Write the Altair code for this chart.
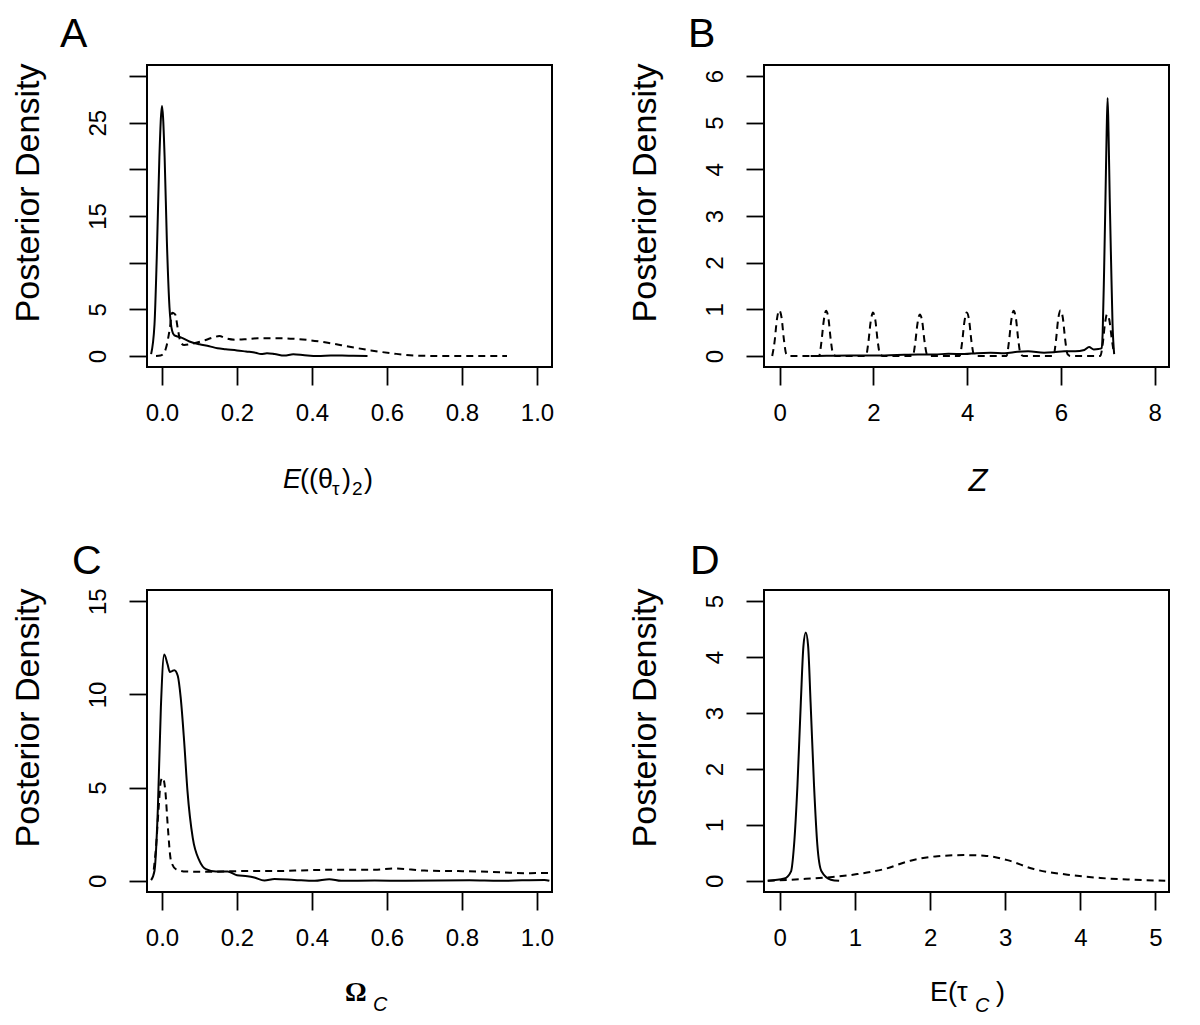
import altair as alt
import pandas as pd

FONT = "Liberation Sans"

# ---------------- Panel A ----------------
a_solid_x = [-0.029, -0.02, -0.014, -0.007, 0.0, 0.007, 0.013, 0.02, 0.027, 0.033, 0.05, 0.073, 0.1,
             0.126, 0.148, 0.17, 0.2, 0.224, 0.25, 0.264, 0.28, 0.3, 0.326, 0.35, 0.38, 0.415, 0.45,
             0.48, 0.51, 0.548]
a_solid_y = [0.2, 3.4, 10.5, 21.3, 26.8, 21.3, 12.3, 5.2, 2.7, 2.2, 2.0, 1.55, 1.25,
             1.05, 0.82, 0.72, 0.6, 0.48, 0.35, 0.2, 0.3, 0.22, 0.05, 0.18, 0.08, 0.0, 0.04,
             0.05, 0.02, 0.0]
a_dash_x = [-0.016, -0.004, 0.005, 0.011, 0.021, 0.027, 0.035, 0.043, 0.05, 0.059, 0.082, 0.108,
            0.135, 0.153, 0.17, 0.197, 0.224, 0.255, 0.315, 0.35, 0.388, 0.442, 0.504, 0.557, 0.62,
            0.68, 0.75, 0.92]
a_dash_y = [0.0, 0.05, 0.3, 0.9, 3.0, 4.64, 4.46, 2.7, 1.43, 1.18, 1.32, 1.6,
            1.96, 2.14, 1.9, 1.75, 1.8, 1.9, 1.9, 1.85, 1.72, 1.42, 0.96, 0.6, 0.25,
            0.04, 0.0, 0.0]

# ---------------- Panel B ----------------
b_solid_x = [0.66, 1.0, 1.5, 2.0, 2.5, 2.94, 3.3, 3.6, 3.94, 4.2, 4.5, 4.8, 5.07, 5.3, 5.64, 5.85,
             6.07, 6.3, 6.5, 6.6, 6.7, 6.8, 6.87, 6.89, 6.92, 6.95, 6.975, 6.995, 7.015, 7.04,
             7.07, 7.1, 7.135]
b_solid_y = [0.0, 0.005, 0.01, 0.01, 0.02, 0.03, 0.03, 0.05, 0.04, 0.06, 0.07, 0.06, 0.09, 0.1, 0.07,
             0.08, 0.1, 0.1, 0.13, 0.19, 0.14, 0.15, 0.17, 0.5, 1.8, 3.4, 4.8, 5.53, 4.8, 3.4,
             2.0, 0.7, 0.04]
b_dash_x = [-0.16, -0.11, -0.06, -0.01, 0.04, 0.09, 0.14, 0.2, 0.8,
            0.84, 0.89, 0.94, 0.99, 1.04, 1.09, 1.14, 1.2, 1.8,
            1.84, 1.89, 1.94, 1.99, 2.04, 2.09, 2.14, 2.2, 2.8,
            2.84, 2.89, 2.94, 2.99, 3.04, 3.09, 3.14, 3.2, 3.8,
            3.84, 3.89, 3.94, 3.99, 4.04, 4.09, 4.14, 4.2, 4.8,
            4.84, 4.89, 4.94, 4.99, 5.04, 5.09, 5.14, 5.2, 5.8,
            5.84, 5.89, 5.94, 5.99, 6.04, 6.09, 6.14, 6.2, 6.8,
            6.84, 6.89, 6.94, 6.98, 7.03, 7.08, 7.13]
b_dash_y = [0.0, 0.3, 0.78, 0.98, 0.82, 0.35, 0.04, 0.0, 0.0,
            0.0, 0.3, 0.76, 0.97, 0.8, 0.34, 0.04, 0.0, 0.0,
            0.0, 0.28, 0.73, 0.93, 0.77, 0.32, 0.04, 0.0, 0.0,
            0.0, 0.27, 0.7, 0.89, 0.74, 0.31, 0.04, 0.0, 0.0,
            0.0, 0.28, 0.73, 0.93, 0.77, 0.32, 0.04, 0.0, 0.0,
            0.0, 0.3, 0.76, 0.97, 0.8, 0.34, 0.04, 0.0, 0.0,
            0.0, 0.3, 0.78, 0.98, 0.82, 0.35, 0.04, 0.0, 0.0,
            0.0, 0.25, 0.7, 0.89, 0.78, 0.4, 0.05]

# ---------------- Panel C ----------------
c_solid_x = [-0.029, -0.02, -0.011, -0.003, 0.006, 0.015, 0.021, 0.027, 0.033, 0.042, 0.05, 0.059,
             0.068, 0.082, 0.1, 0.117, 0.144, 0.175, 0.2, 0.228, 0.246, 0.273, 0.3, 0.353, 0.407,
             0.446, 0.478, 0.567, 0.65, 0.82, 0.9, 1.02, 1.033]
c_solid_y = [0.04, 0.54, 3.9, 9.3, 12.14, 11.6, 11.2, 11.25, 11.3, 11.0, 9.8, 7.5,
             4.8, 2.3, 1.07, 0.63, 0.5, 0.5, 0.3, 0.25, 0.18, 0.02, 0.1, 0.05, 0.0,
             0.09, 0.0, 0.02, 0.0, 0.03, 0.0, 0.05, 0.0]
c_dash_x = [-0.022, -0.016, -0.009, -0.003, 0.002, 0.009, 0.015, 0.024, 0.037, 0.064, 0.122, 0.21,
            0.3, 0.39, 0.478, 0.567, 0.62, 0.7, 0.79, 0.877, 0.966, 1.035]
c_dash_y = [0.6, 1.8, 3.9, 5.36, 5.53, 4.8, 3.04, 1.07, 0.63, 0.5, 0.48, 0.52,
            0.52, 0.57, 0.6, 0.6, 0.66, 0.55, 0.52, 0.48, 0.41, 0.42]

# ---------------- Panel D ----------------
d_solid_x = [-0.16, 0.06, 0.15, 0.19, 0.235, 0.28, 0.315, 0.346, 0.377, 0.41, 0.456, 0.5, 0.555,
             0.68, 0.79]
d_solid_y = [0.0, 0.04, 0.17, 0.64, 1.7, 3.19, 4.2, 4.44, 4.2, 3.19, 1.7, 0.64, 0.17, 0.02, 0.0]
d_dash_x = [-0.16, 0.28, 0.63, 1.03, 1.39, 1.74, 2.1, 2.45, 2.72, 3.03, 3.38, 3.83, 4.27, 4.71, 5.13]
d_dash_y = [0.0, 0.03, 0.06, 0.12, 0.21, 0.36, 0.44, 0.46, 0.45, 0.37, 0.21, 0.11, 0.05, 0.02, 0.0]

# tick values
a_xticks = [0.0, 0.2, 0.4, 0.6, 0.8, 1.0]
a_yticks = [0, 5, 10, 15, 20, 25, 30]
b_xticks = [0, 2, 4, 6, 8]
b_yticks = [0, 1, 2, 3, 4, 5, 6]
c_xticks = [0.0, 0.2, 0.4, 0.6, 0.8, 1.0]
c_yticks = [0, 5, 10, 15]
d_xticks = [0, 1, 2, 3, 4, 5]
d_yticks = [0, 1, 2, 3, 4, 5]

W, H = 405, 302
YTITLE = "Posterior Density"
LETTER_POS = {"A": (-87, -18), "B": (-76, -18), "C": (-75, -16), "D": (-74, -16)}


def txt(s, x, y, size, style="normal", weight="normal", font=FONT, angle=0, align="left"):
    return alt.Chart(pd.DataFrame({"t": [s]})).mark_text(
        font=font, fontSize=size, fontStyle=style, fontWeight=weight, angle=angle,
        align=align, baseline="alphabetic", color="black"
    ).encode(x=alt.value(x), y=alt.value(y), text="t:N")


def panel(sx, sy, dx, dy, xdom, ydom, xticks, yticks, xfmt, letter, extra, ylabel_expr=None, anchor=False):
    xs = alt.Scale(domain=xdom, nice=False, zero=False)
    ys = alt.Scale(domain=ydom, nice=False, zero=False)
    xax = alt.Axis(values=xticks, format=xfmt, title="", labelPadding=16, labelBaseline="top",
                   labelFlush=False, labelOverlap=False, grid=False, domain=False,
                   tickColor="black", tickWidth=1.8, tickSize=18,
                   labelFont=FONT, labelFontSize=24, labelColor="black")
    yargs = dict(values=yticks, format="d", title="", labelAngle=270, labelAlign="center",
                 labelBaseline="alphabetic", labelPadding=24, labelFlush=False, labelOverlap=False,
                 grid=False, domain=False, tickColor="black", tickWidth=1.8, tickSize=18,
                 labelFont=FONT, labelFontSize=24, labelColor="black")
    if ylabel_expr:
        yargs["labelExpr"] = ylabel_expr
    yax = alt.Axis(**yargs)
    solid = alt.Chart(pd.DataFrame({"x": sx, "y": sy})).mark_line(
        color="black", strokeWidth=2, interpolate="monotone", clip=True
    ).encode(x=alt.X("x:Q", scale=xs, axis=xax), y=alt.Y("y:Q", scale=ys, axis=yax))
    dashed = alt.Chart(pd.DataFrame({"x": dx, "y": dy})).mark_line(
        color="black", strokeWidth=2, strokeDash=[7, 5], interpolate="monotone", clip=True
    ).encode(x=alt.X("x:Q", scale=xs, axis=xax), y=alt.Y("y:Q", scale=ys, axis=yax))
    lx, ly = LETTER_POS[letter]
    layers = [solid, dashed, txt(letter, lx, ly, 41),
              txt(YTITLE, -108, 128, 34, angle=270, align="center")] + extra
    if anchor:
        layers.append(alt.Chart(pd.DataFrame({"a": [0]})).mark_rule(opacity=0).encode(
            x=alt.value(-138), x2=alt.value(-137), y=alt.value(-56), y2=alt.value(-56)))
    return alt.layer(*layers).properties(width=W, height=H)


pa = panel(a_solid_x, a_solid_y, a_dash_x, a_dash_y, [-0.04, 1.04], [-1.18, 31.18], a_xticks, a_yticks,
           ".1f", "A",
           [txt("E", 136, 423, 27, style="italic"),
            txt("((θ", 153, 423, 27),
            txt("τ", 185, 430, 19),
            txt(")", 195, 423, 27),
            txt("2", 205, 430, 19),
            txt(")", 217, 423, 27)],
           ylabel_expr="datum.value == 10 || datum.value == 20 || datum.value == 30 ? '' : datum.label",
           anchor=True)
pb = panel(b_solid_x, b_solid_y, b_dash_x, b_dash_y, [-0.335, 8.305], [-0.236, 6.236], b_xticks, b_yticks,
           "d", "B",
           [txt("Z", 214, 426, 31, style="italic", align="center")])
pc = panel(c_solid_x, c_solid_y, c_dash_x, c_dash_y, [-0.04, 1.04], [-0.6, 15.6], c_xticks, c_yticks,
           ".1f", "C",
           [txt("Ω", 198, 411, 27, weight="bold", font="Liberation Serif"),
            txt("C", 226, 421, 20, style="italic")])
pd_ = panel(d_solid_x, d_solid_y, d_dash_x, d_dash_y, [-0.21, 5.18], [-0.2, 5.2], d_xticks, d_yticks,
            "d", "D",
            [txt("E(τ", 166, 411, 27),
             txt("C", 211, 422, 20, style="italic"),
             txt(")", 232, 411, 27)])

chart = alt.concat(pa, pb, pc, pd_, columns=2, spacing={"row": 223, "column": 212},
                   bounds="flush").properties(padding=0, background="white").configure_view(
    stroke="black", strokeWidth=2
).configure_axis(
    grid=False, domain=False, tickColor="black", tickWidth=1.8, tickSize=18,
    labelFont=FONT, labelFontSize=24, labelColor="black"
)

chart.save("out.html", embed_options={"renderer": "svg", "actions": False})
